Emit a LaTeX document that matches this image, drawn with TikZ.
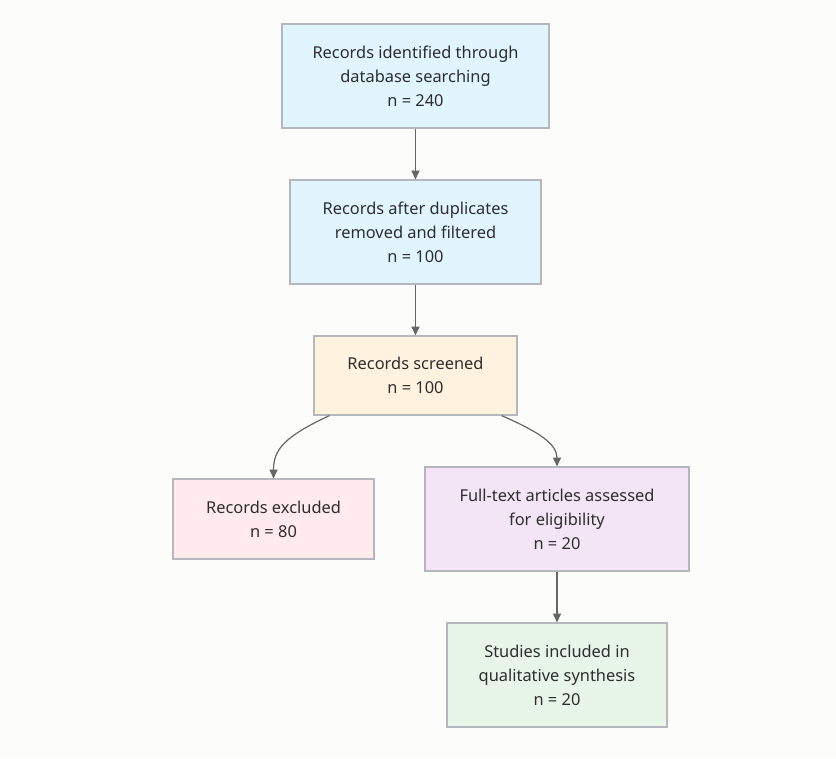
\documentclass[tikz,border=0pt]{standalone}
\usepackage{fontspec}
\setmainfont{Noto Sans}
\usetikzlibrary{arrows.meta}
\definecolor{bgcol}{HTML}{FCFCFB}
\definecolor{linecol}{HTML}{666666}
\definecolor{edgecol}{HTML}{B4B8BC}
\definecolor{txtcol}{HTML}{2E2E2E}
\definecolor{bluefill}{HTML}{E1F5FE}
\definecolor{orangefill}{HTML}{FFF3E0}
\definecolor{pinkfill}{HTML}{FFEBEE}
\definecolor{purplefill}{HTML}{F3E5F5}
\definecolor{greenfill}{HTML}{E8F5E9}
\tikzset{
  box/.style={draw=edgecol, line width=0.9pt, align=center, text=txtcol,
    font=\fontsize{12.3}{18}\selectfont, inner sep=0pt},
  flow/.style={draw=linecol, line width=0.9pt, -{Triangle[length=6.5pt,width=6pt]}}
}
\begin{document}
\begin{tikzpicture}[x=0.75pt,y=-0.75pt]
  \fill [bgcol] (0,0) rectangle (836,758);
  \useasboundingbox (0,0) rectangle (836,758);
  % the records boxes
  \node [box, fill=bluefill, minimum width=200.25pt, minimum height=78pt] (ident) at (415.5,76)
    {Records identified through\\database searching\\n = 240};
  \node [box, fill=bluefill, minimum width=188.25pt, minimum height=78pt] (dupl) at (415.5,232)
    {Records after duplicates\\removed and filtered\\n = 100};
  \node [box, fill=orangefill, minimum width=152.25pt, minimum height=59.25pt] (screen) at (415.5,375.5)
    {Records screened\\n = 100};
  % the split
  \node [box, fill=pinkfill, minimum width=150.75pt, minimum height=60pt] (excl) at (273.5,519)
    {Records excluded\\n = 80};
  \node [box, fill=purplefill, minimum width=198pt, minimum height=78pt] (full) at (557,519)
    {Full-text articles assessed\\for eligibility\\n = 20};
  \node [box, fill=greenfill, minimum width=165pt, minimum height=78pt] (incl) at (557,675)
    {Studies included in\\qualitative synthesis\\n = 20};
  % connections
  \draw [flow] (ident) -- (dupl);
  \draw [flow] (dupl) -- (screen);
  \draw [flow] ([xshift=12pt]screen.south west) .. controls +(-45,21) and +(0,-29) .. (excl.north);
  \draw [flow] ([xshift=-12pt]screen.south east) .. controls +(39,17) and +(0,-22) .. (full.north);
  \draw [flow] (full) -- (incl);
\end{tikzpicture}
\end{document}
